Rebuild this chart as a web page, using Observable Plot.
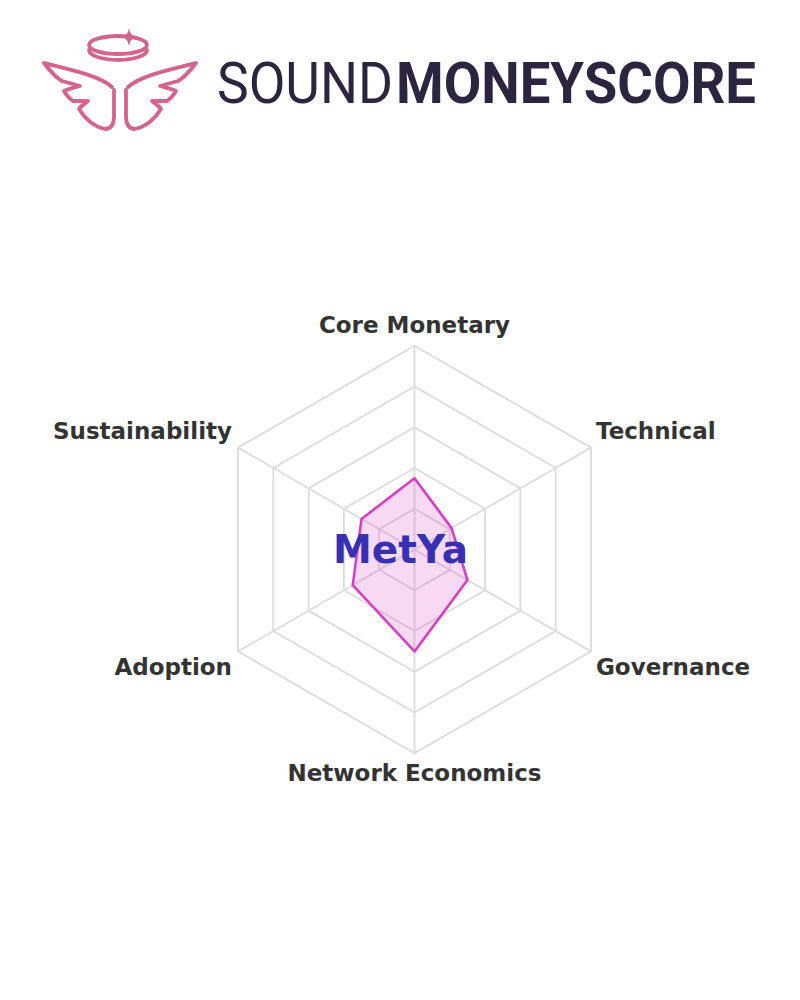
<!DOCTYPE html>
<html><head><meta charset="utf-8">
<script src="https://cdn.jsdelivr.net/npm/d3@7"></script>
<script src="https://cdn.jsdelivr.net/npm/@observablehq/plot@0.6"></script>
<style>
html,body{margin:0;padding:0;background:#fff}
body{width:800px;height:1000px;overflow:hidden;font-family:"DejaVu Sans",sans-serif}
#logo{display:block}
#chart svg{display:block}
</style></head><body>
<svg id="logo" width="800" height="160" viewBox="0 0 800 160">
  <g fill="none" stroke="#d4648e" stroke-width="3.8" stroke-linecap="round" stroke-linejoin="round">
    <ellipse cx="118" cy="45" rx="29" ry="9"/>
    <path d="M89,50 A29,10 0 0 0 147,50"/>
    <g id="wingL">
      <path d="M112,87 C100,76 72,70 44,63 C50,71 55,77 62,81 L80,86 C72,88 67,89 64,91 C67,96 70,99 73,101 L88,101 C84,104 81,106 79,109 C86,120 95,127 105,129 C112,129 114,123 114,116 L114,90"/>
    </g>
    <use href="#wingL" transform="translate(240,0) scale(-1,1)"/>
  </g>
  <path d="M129,28 Q130,36 137,37 Q130,38 129,46 Q128,38 121,37 Q128,36 129,28Z" fill="#d4648e"/>
  <text x="217" y="103" font-family="Roboto" font-weight="400" font-size="58" textLength="176" lengthAdjust="spacingAndGlyphs" fill="#2b2540">SOUND</text>
  <text x="396" y="103" font-family="Roboto" font-weight="700" font-size="58" textLength="360" lengthAdjust="spacingAndGlyphs" fill="#2b2540">MONEYSCORE</text>
</svg>
<div id="chart"></div>
<script>
// ---- data ----
const categories = ["Core Monetary", "Technical", "Governance", "Network Economics", "Adoption", "Sustainability"];
const scores = [35, 21, 30, 50, 35, 30];
const maxScore = 100;
const ringLevels = [20, 40, 60, 80, 100];
const coinName = "MetYa";

// ---- geometry helpers ----
const angle = i => (90 - 60 * i) * Math.PI / 180;
const px = (v, i) => (v / maxScore) * Math.cos(angle(i));
const py = (v, i) => (v / maxScore) * Math.sin(angle(i));

const W = 800, H = 840, R = 203.8, CX = 414, CY = 389;

const ringRows = ringLevels.flatMap(level => categories.map((c, i) => ({level, i})));
const spokeRows = categories.map((c, i) => ({c, i}));
const scoreRows = categories.map((c, i) => ({c, i, v: scores[i]}));

const labelFont = {fontFamily: "DejaVu Sans", fontWeight: "bold", fontSize: 23, fill: "#333333"};
const labelMarks = categories.map((c, i) => {
  const cs = Math.cos(angle(i)), sn = Math.sin(angle(i));
  const vertical = Math.abs(cs) < 0.1;
  return Plot.text([{c, i}], {
    x: d => px(maxScore, d.i), y: d => py(maxScore, d.i), text: "c",
    textAnchor: vertical ? "middle" : (cs > 0 ? "start" : "end"),
    dx: vertical ? 0 : (cs > 0 ? 5 : -6),
    dy: vertical ? (sn > 0 ? -20 : 20) : (sn > 0 ? -16 : 16),
    ...labelFont
  });
});

const chart = Plot.plot({
  width: W, height: H,
  marginLeft: CX - R, marginRight: W - CX - R,
  marginTop: CY - R, marginBottom: H - CY - R,
  x: {domain: [-1, 1], axis: null},
  y: {domain: [-1, 1], axis: null},
  style: {background: "#fff", overflow: "visible"},
  marks: [
    Plot.line(ringRows, {x: d => px(d.level, d.i), y: d => py(d.level, d.i), z: "level", curve: "linear-closed", stroke: "#dcdcdc", strokeWidth: 1.8}),
    Plot.link(spokeRows, {x1: () => 0, y1: () => 0, x2: d => px(maxScore, d.i), y2: d => py(maxScore, d.i), stroke: "#dcdcdc", strokeWidth: 1.8}),
    Plot.line(scoreRows, {x: d => px(d.v, d.i), y: d => py(d.v, d.i), curve: "linear-closed", fill: "#d63fc4", fillOpacity: 0.2, stroke: "#d63fc4", strokeWidth: 2.6}),
    ...labelMarks,
    Plot.text([coinName], {x: () => 0, y: () => 0, text: d => d, dx: -14, dy: 1, fontFamily: "DejaVu Sans", fontWeight: "bold", fontSize: 39, fill: "#3730b4"})
  ]
});
document.getElementById("chart").append(chart);
</script>
</body></html>
